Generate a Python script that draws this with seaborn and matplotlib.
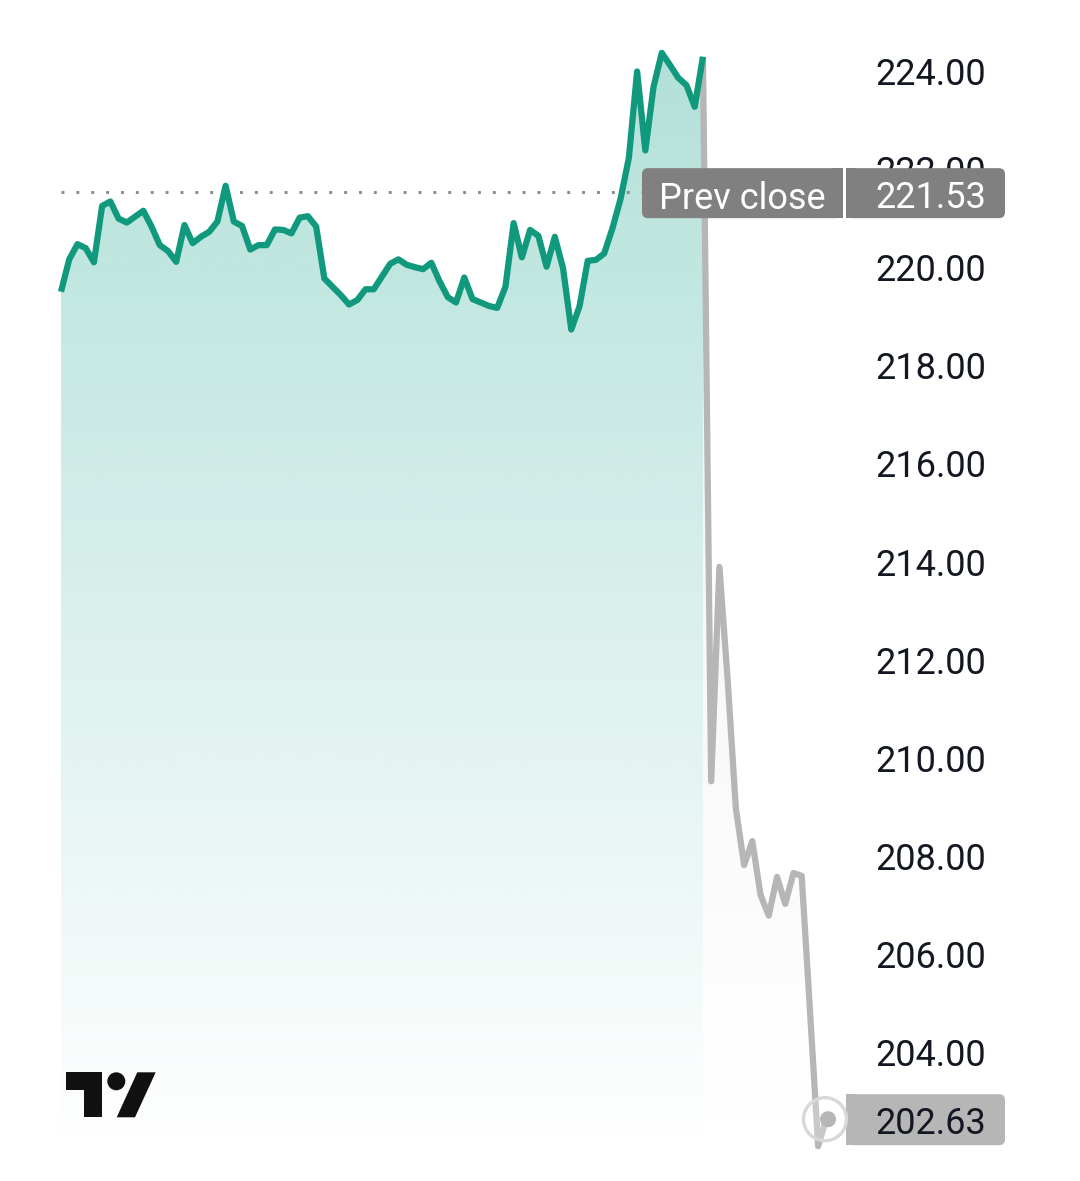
import numpy as np
import pandas as pd
import matplotlib
matplotlib.use("Agg")
import matplotlib.pyplot as plt
from matplotlib.patches import Circle, FancyBboxPatch, Polygon, Rectangle
import seaborn as sns

# prices, one every few minutes
session_prices = [219.50, 220.16, 220.47, 220.39, 220.10, 221.25, 221.34, 220.99, 220.91, 221.03,
                  221.15, 220.83, 220.45, 220.33, 220.11, 220.86, 220.49, 220.62, 220.72, 220.93,
                  221.66, 220.93, 220.84, 220.36, 220.45, 220.45, 220.77, 220.76, 220.69, 221.01,
                  221.04, 220.83, 219.77, 219.60, 219.43, 219.24, 219.33, 219.55, 219.55, 219.81,
                  220.07, 220.16, 220.05, 220.00, 219.96, 220.09, 219.71, 219.39, 219.28, 219.79,
                  219.35, 219.28, 219.21, 219.17, 219.60, 220.90, 220.20, 220.76, 220.64, 220.01,
                  220.62, 219.98, 218.73, 219.20, 220.13, 220.15, 220.28, 220.79, 221.40, 222.23,
                  223.99, 222.38, 223.68, 224.37, 224.12, 223.86, 223.71, 223.27, 224.29]
# after hours part, starts on the last session point
after_prices = [224.29, 209.52, 213.89, 211.60, 208.97, 207.81, 208.30, 207.20, 206.78, 207.57,
                207.02, 207.65, 207.59, 204.86, 202.08, 202.65]
tick_values = [224, 222, 220, 218, 216, 214, 212, 210, 208, 206, 204]
prev_close = 221.53
last_price = 202.63

W, H = 1080, 1181
GREEN = "#11997e"
GRAY = "#b6b6b6"
TEXT = "#131722"

# scale of the picture
px_per_step = 8.23
px_per_unit = 49.05
x0_px = 61
y224_px = 71
base_price = 224 - (1150 - y224_px) / px_per_unit
top_price = 224 - (57 - y224_px) / px_per_unit

sns.set_theme(style="white")
plt.rcParams["font.family"] = ["Roboto", "DejaVu Sans"]

session = pd.DataFrame({"t": np.arange(len(session_prices)), "price": session_prices})
after = pd.DataFrame({"t": np.arange(len(after_prices)) + len(session_prices) - 1, "price": after_prices})

fig = plt.figure(figsize=(W / 100, H / 100), dpi=100, facecolor="white")
ax = fig.add_axes([0, 0, 1, 1])


def gradient_fill(df, color, top_alpha):
    # vertical fade, clipped to the area under the line
    poly = ax.fill_between(df["t"], df["price"], base_price, facecolor="none", edgecolor="none")
    img = np.zeros((256, 1, 4))
    img[:, :, :3] = matplotlib.colors.to_rgb(color)
    img[:, 0, 3] = np.linspace(top_alpha, 0, 256)
    im = ax.imshow(img, extent=(df["t"].min(), df["t"].max(), base_price, top_price),
                   aspect="auto", origin="upper", zorder=1, interpolation="bilinear")
    im.set_clip_path(poly.get_paths()[0], transform=ax.transData)


gradient_fill(session, "#0f9f88", 0.32)
gradient_fill(after, "#8a8a8a", 0.13)

ax.hlines(prev_close, 0, 72, color="#8a8a8a", lw=2.1, linestyles=(0, (1, 4.1)), zorder=2.2)

sns.lineplot(data=after, x="t", y="price", color=GRAY, lw=4.5, ax=ax, zorder=2.5,
             estimator=None, solid_joinstyle="round", solid_capstyle="butt")
sns.lineplot(data=session, x="t", y="price", color=GREEN, lw=4.5, ax=ax, zorder=3,
             estimator=None, solid_joinstyle="round", solid_capstyle="butt")

ax.set_xlim(-x0_px / px_per_step, (W - x0_px) / px_per_step)
ax.set_ylim(224 - (H - y224_px) / px_per_unit, 224 + y224_px / px_per_unit)
ax.set_xticks([])
ax.set_xlabel("")
ax.set_ylabel("")
ax.yaxis.tick_right()
ax.set_yticks(tick_values)
ax.set_yticklabels(["%.2f" % v for v in tick_values])
ax.tick_params(axis="y", length=0, pad=-(W - 875.5) * 0.72, labelsize=26, labelcolor=TEXT)
sns.despine(ax=ax, left=True, right=True, top=True, bottom=True)

# overlay in picture pixels for badges and logo
ov = fig.add_axes([0, 0, 1, 1], facecolor="none")
ov.set_xlim(0, W)
ov.set_ylim(H, 0)
ov.axis("off")


def badge(x1, x2, y1, y2, color, flat_side):
    # rounded box with one flat side
    ov.add_patch(FancyBboxPatch((x1 + 6, y1 + 6), x2 - x1 - 12, y2 - y1 - 12,
                                boxstyle="round,pad=6,rounding_size=6", fc=color, ec="none"))
    if flat_side == "right":
        ov.add_patch(Rectangle((x2 - 10, y1), 10, y2 - y1, fc=color, ec="none"))
    else:
        ov.add_patch(Rectangle((x1, y1), 10, y2 - y1, fc=color, ec="none"))


prev_y = y224_px + (224 - prev_close) * px_per_unit
last_y = y224_px + (224 - last_price) * px_per_unit

badge(642, 843, prev_y - 24, prev_y + 26, "#808080", "right")
badge(846, 1005, prev_y - 24, prev_y + 26, "#808080", "left")
ov.text(742, prev_y + 7, "Prev close", color="white", fontsize=26, ha="center", va="center")
ov.text(875.5, prev_y + 6, "%.2f" % prev_close, color="white", fontsize=26, ha="left", va="center")

badge(846, 1005, last_y - 25, last_y + 26, GRAY, "left")
ov.text(875.5, last_y + 5, "%.2f" % last_price, color=TEXT, fontsize=26, ha="left", va="center")

# marker at the last price
ov.add_patch(Circle((825, last_y), 21.5, fc=(1, 1, 1, 0.25), ec="#d8d8d8", lw=2.4))
ov.add_patch(Circle((828, last_y), 8, fc=GRAY, ec="none"))

# logo
LOGO = "#111111"
ov.add_patch(Polygon([(65.7, 1072.3), (101.7, 1072.3), (101.7, 1117.3), (83.7, 1117.3),
                      (83.7, 1090.3), (65.7, 1090.3)], fc=LOGO, ec="none"))
ov.add_patch(Circle((116.3, 1081.3), 9, fc=LOGO, ec="none"))
ov.add_patch(Polygon([(137.3, 1072.3), (155.7, 1072.3), (135, 1117.3), (116.7, 1117.3)], fc=LOGO, ec="none"))

fig.savefig("out.png", dpi=100)
